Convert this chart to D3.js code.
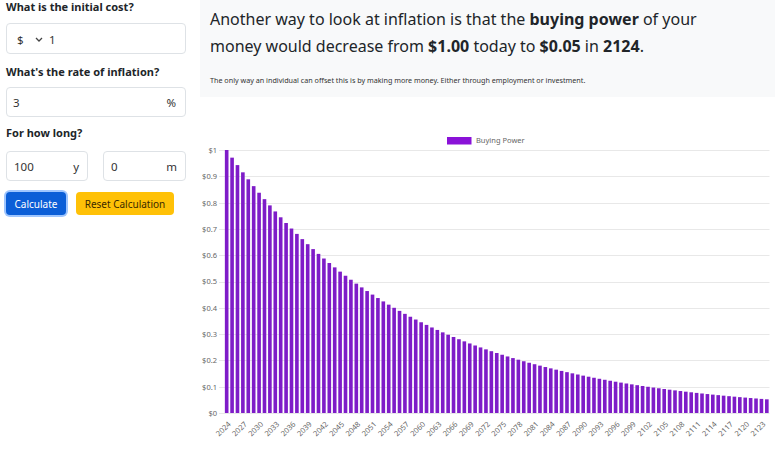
<!DOCTYPE html>
<html><head><meta charset="utf-8">
<script src="https://cdn.jsdelivr.net/npm/d3@7"></script>
<style>
html,body{margin:0;padding:0;width:775px;height:450px;overflow:hidden;background:#fff;font-family:"Noto Sans","Open Sans",sans-serif;color:#212529;}
.abs{position:absolute;}
.lbl{font-weight:700;font-size:11px;line-height:14px;}
.inp{border:1px solid #dee2e6;border-radius:4px;box-sizing:border-box;background:#fff;font-size:11.5px;color:#333;}
.inp span{position:absolute;top:50%;transform:translateY(-50%);}
.btn{border-radius:4px;box-sizing:border-box;font-size:10px;display:flex;align-items:center;justify-content:center;}
#panel{left:200px;top:0;width:575px;height:97px;background:#f8f9fa;}
#h1{left:210px;top:6px;font-size:16px;line-height:27px;color:#212529;white-space:nowrap;}
#small{left:210px;top:75px;font-size:7.2px;color:#333;white-space:nowrap;}
svg{position:absolute;left:0;top:0;}
</style></head>
<body>
<div class="abs lbl" style="left:6px;top:0px;">What is the initial cost?</div>
<div class="abs inp" style="left:6px;top:23px;width:180px;height:31px;">
  <span style="left:10px;">$</span>
  <svg width="8" height="6" style="position:absolute;left:28px;top:13px;"><polyline points="1,1 4,4 7,1" fill="none" stroke="#444" stroke-width="1.3"/></svg>
  <span style="left:42px;">1</span>
</div>
<div class="abs lbl" style="left:6px;top:65px;">What's the rate of inflation?</div>
<div class="abs inp" style="left:6px;top:87px;width:180px;height:30px;">
  <span style="left:6px;">3</span><span style="right:9px;">%</span>
</div>
<div class="abs lbl" style="left:6px;top:126px;">For how long?</div>
<div class="abs inp" style="left:6px;top:151px;width:82px;height:30px;">
  <span style="left:7px;">100</span><span style="right:8px;">y</span>
</div>
<div class="abs inp" style="left:103px;top:151px;width:83px;height:30px;">
  <span style="left:7px;">0</span><span style="right:8px;">m</span>
</div>
<div class="abs btn" style="left:6px;top:192px;width:60px;height:23px;background:#0b5ed7;color:#fff;box-shadow:0 0 0 2px #9ec5fe;">Calculate</div>
<div class="abs btn" style="left:76px;top:192px;width:98px;height:23px;background:#ffc107;color:#3b2a00;">Reset Calculation</div>

<div id="panel" class="abs"></div>
<div id="h1" class="abs">Another way to look at inflation is that the <b>buying power</b> of your<br>money would decrease from <b>$1.00</b> today to <b>$0.05</b> in <b>2124</b>.</div>
<div id="small" class="abs">The only way an individual can offset this is by making more money. Either through employment or investment.</div>

<svg id="chart" width="775" height="450"></svg>
<script>
const seriesName = "Buying Power";
const years = [2024,2025,2026,2027,2028,2029,2030,2031,2032,2033,2034,2035,2036,2037,2038,2039,2040,2041,2042,2043,2044,2045,2046,2047,2048,2049,2050,2051,2052,2053,2054,2055,2056,2057,2058,2059,2060,2061,2062,2063,2064,2065,2066,2067,2068,2069,2070,2071,2072,2073,2074,2075,2076,2077,2078,2079,2080,2081,2082,2083,2084,2085,2086,2087,2088,2089,2090,2091,2092,2093,2094,2095,2096,2097,2098,2099,2100,2101,2102,2103,2104,2105,2106,2107,2108,2109,2110,2111,2112,2113,2114,2115,2116,2117,2118,2119,2120,2121,2122,2123,2124];
const buyingPower = [1.000,0.9709,0.9426,0.9151,0.8885,0.8626,0.8375,0.8131,0.7894,0.7664,
0.7441,0.7224,0.7014,0.6810,0.6611,0.6419,0.6232,0.6050,0.5874,0.5703,
0.5537,0.5375,0.5219,0.5067,0.4919,0.4776,0.4637,0.4502,0.4371,0.4243,
0.4120,0.4000,0.3883,0.3770,0.3660,0.3554,0.3450,0.3350,0.3252,0.3158,
0.3066,0.2976,0.2890,0.2805,0.2724,0.2644,0.2567,0.2493,0.2420,0.2350,
0.2281,0.2215,0.2150,0.2088,0.2027,0.1968,0.1910,0.1855,0.1801,0.1748,
0.1697,0.1648,0.1600,0.1553,0.1508,0.1464,0.1421,0.1380,0.1340,0.1301,
0.1263,0.1226,0.1190,0.1156,0.1122,0.1089,0.1058,0.1027,0.0997,0.0968,
0.0940,0.0912,0.0886,0.0860,0.0835,0.0811,0.0787,0.0764,0.0742,0.0720,
0.0699,0.0679,0.0659,0.0640,0.0621,0.0603,0.0586,0.0569,0.0552,0.0536,
0.0520];
const yTicks = [0,0.1,0.2,0.3,0.4,0.5,0.6,0.7,0.8,0.9,1];
const yTickLabels = ["$0","$0.1","$0.2","$0.3","$0.4","$0.5","$0.6","$0.7","$0.8","$0.9","$1"];
const xLabelYears = years.filter((d,i)=>i%3===0);

const svg = d3.select("#chart");
const x = d3.scaleBand().domain(years).range([224, 769.5]).paddingInner(0.33).paddingOuter(0.16);
const y = d3.scaleLinear().domain([0,1]).range([413, 150]);
const txt = "#666";
const fontF = '"Noto Sans","Open Sans",sans-serif';
const fs = "7.5px";

// grid
svg.append("g").selectAll("line").data(yTicks).join("line")
  .attr("x1",219).attr("x2",769.5)
  .attr("y1",d=>Math.round(y(d))+0.5).attr("y2",d=>Math.round(y(d))+0.5)
  .attr("stroke","#e8e8e8").attr("stroke-width",1);
// y axis labels
const yAxis = d3.axisLeft(y).tickValues(yTicks).tickFormat((d,i)=>yTickLabels[i]).tickSize(0).tickPadding(0);
const ya = svg.append("g").attr("transform","translate(217,0)").call(yAxis);
ya.select(".domain").remove();
ya.selectAll("text").attr("fill",txt).style("font-size",fs).style("font-family",fontF);

// bars
svg.append("g").selectAll("rect").data(buyingPower).join("rect")
  .attr("x",(d,i)=>x(years[i])).attr("width",x.bandwidth())
  .attr("y",d=>y(d)).attr("height",d=>y(0)-y(d))
  .attr("fill","#7e1cc8");

// x axis
const xAxis = d3.axisBottom(x).tickValues(xLabelYears).tickSize(0).tickPadding(0);
const xa = svg.append("g").attr("transform","translate(0,420)").call(xAxis);
xa.select(".domain").remove();
xa.selectAll("text").attr("fill",txt).style("font-size",fs).style("font-family",fontF)
  .attr("text-anchor","end").attr("dy","0.3em").attr("y",0)
  .attr("transform","translate(3,3) rotate(-45)");

// legend
const lg = svg.append("g");
lg.append("rect").attr("x",447).attr("y",137).attr("width",24.5).attr("height",7.5).attr("fill","#8a12d8");
lg.append("text").attr("x",476).attr("y",140.8).attr("dy","0.35em").text(seriesName)
  .attr("fill",txt).style("font-size",fs).style("font-family",fontF);
</script>
</body></html>
